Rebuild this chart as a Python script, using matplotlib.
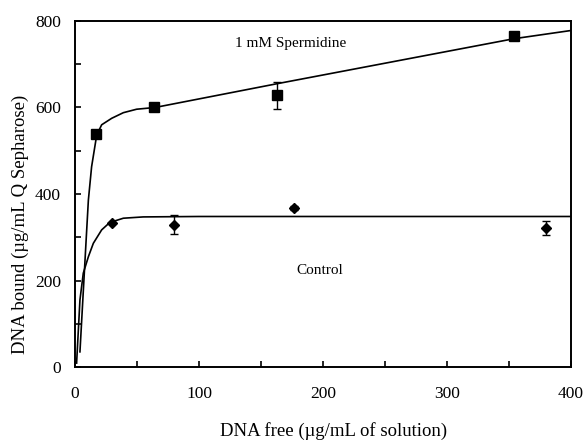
import matplotlib
matplotlib.use("Agg")
import matplotlib.pyplot as plt
from matplotlib.ticker import MultipleLocator

plt.rcParams["font.family"] = ["Liberation Serif", "DejaVu Serif"]

# fitted curves
sperm_fit_x = [4, 9, 10.8, 13.4, 17.5, 21.5, 29.6, 39, 49.7, 64.5, 163, 354, 400]
sperm_fit_y = [35, 294, 386, 463, 536, 560, 575, 588, 596, 600, 655, 759, 778]
ctrl_fit_x = [1.3, 4, 6.7, 10.8, 14.8, 21.5, 28, 39, 55, 100, 200, 300, 400]
ctrl_fit_y = [9, 155, 217, 255, 286, 317, 334, 344, 347, 348, 348, 348, 348]

# measured points
sperm_x = [17, 64, 163, 354]
sperm_y = [538, 601, 628, 765]
sperm_err = [0, 0, 32, 8]
ctrl_x = [30, 80, 177, 380]
ctrl_y = [333, 329, 367, 321]
ctrl_err = [0, 22, 5, 16]

fig = plt.figure(figsize=(5.84, 4.40), dpi=100)
ax = fig.add_axes([0.1284, 0.1659, 0.8493, 0.7864])

ax.plot(sperm_fit_x, sperm_fit_y, color="black", lw=1.2)
ax.plot(ctrl_fit_x, ctrl_fit_y, color="black", lw=1.2)
ax.errorbar(sperm_x, sperm_y, yerr=sperm_err, fmt="s", color="black",
            ms=6.5, capsize=3, elinewidth=1, capthick=1)
ax.errorbar(ctrl_x, ctrl_y, yerr=ctrl_err, fmt="D", color="black",
            ms=5, capsize=3, elinewidth=1, capthick=1)

ax.text(174, 747, "1 mM Spermidine", ha="center", va="center", fontsize=11)
ax.text(197, 224, "Control", ha="center", va="center", fontsize=11)

ax.set_xlim(0, 400)
ax.set_ylim(0, 800)
ax.xaxis.set_major_locator(MultipleLocator(100))
ax.xaxis.set_minor_locator(MultipleLocator(50))
ax.yaxis.set_major_locator(MultipleLocator(200))
ax.yaxis.set_minor_locator(MultipleLocator(100))
ax.tick_params(which="both", direction="in", length=4, width=1.2,
               labelsize=12.5)
ax.tick_params(axis="x", pad=14)
ax.tick_params(axis="y", pad=10)
for s in ax.spines.values():
    s.set_linewidth(1.4)

fig.text(20 / 584, 1 - 224 / 440, "DNA bound (\u00b5g/mL Q Sepharose)",
         ha="center", va="center", rotation=90, fontsize=13.5)
fig.text(334 / 584, 1 - 431 / 440, "DNA free (\u00b5g/mL of solution)",
         ha="center", va="center", fontsize=13.5)

plt.savefig("out.png", dpi=100)
plt.close()
